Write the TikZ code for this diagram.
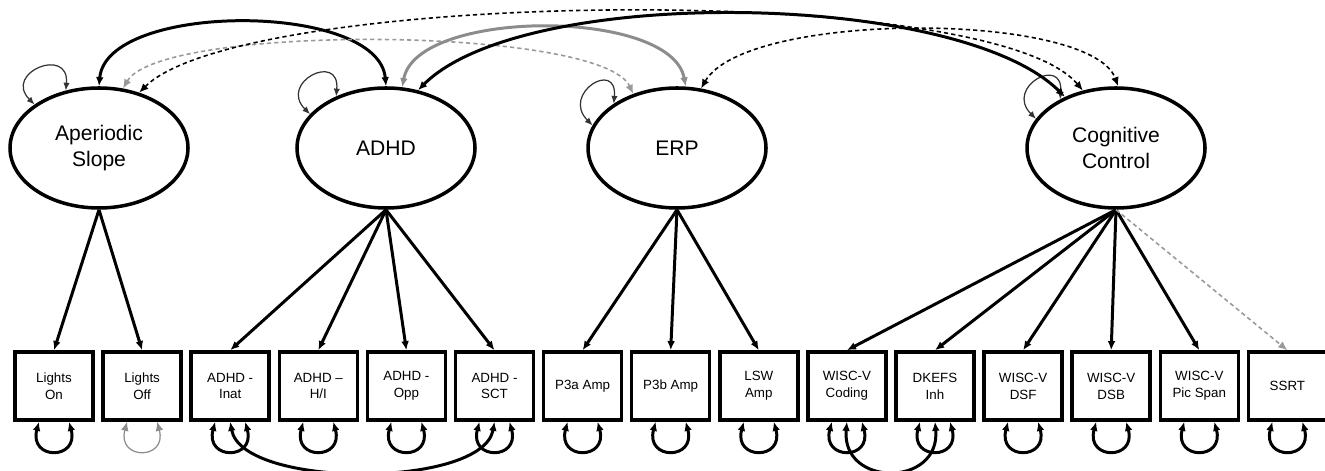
\documentclass[tikz,border=0pt]{standalone}
\usepackage{fontspec}
\setmainfont{Liberation Sans}
\usetikzlibrary{arrows.meta, shapes.geometric}

\begin{document}
\begin{tikzpicture}[
    >={Latex[length=2.6pt,width=2.2pt]},
    latent/.style={ellipse, draw, line width=1pt, inner sep=0pt,
        minimum width=1.78cm, minimum height=1.2cm, align=center,
        font=\fontsize{6}{7.4}\selectfont},
    indic/.style={rectangle, draw, line width=1pt, inner sep=0pt,
        minimum width=0.78cm, minimum height=0.68cm, align=center,
        font=\fontsize{3.8}{4.8}\selectfont},
    load/.style={->, line width=0.85pt},
    cov/.style={<->, line width=0.85pt},
    covgray/.style={<->, line width=0.85pt, black!45},
    covdash/.style={<->, line width=0.45pt, dash pattern=on 1.2pt off 0.9pt},
    covlight/.style={<->, line width=0.45pt, black!40, dash pattern=on 1.2pt off 0.9pt},
    varloop/.style={<->, line width=0.35pt, black!80,
        >={Latex[length=2.2pt,width=1.8pt]}},
    resid/.style={<->, line width=0.85pt},
]
\useasboundingbox (0,0) rectangle (13.25,4.71);

% === Latent factors ===
\node[latent] (aper) at (0.99,3.23) {Aperiodic\\Slope};
\node[latent] (adhd) at (3.86,3.23) {ADHD};
\node[latent] (erp)  at (6.77,3.23) {ERP};
\node[latent] (cog)  at (11.16,3.23) {Cognitive\\Control};

% === Indicators ===
\foreach \nm/\txt [count=\i from 0] in {lon/{Lights\\On}, loff/{Lights\\Off},
    inat/{ADHD -\\Inat}, hi/{ADHD --\\H/I}, opp/{ADHD -\\Opp}, sct/{ADHD -\\SCT},
    pa/{P3a Amp}, pb/{P3b Amp}, lsw/{LSW\\Amp}, cod/{WISC-V\\Coding},
    dkefs/{DKEFS\\Inh}, dsf/{WISC-V\\DSF}, dsb/{WISC-V\\DSB},
    pic/{WISC-V\\Pic Span}, ssrt/{SSRT}}
    \node[indic] (\nm) at ({0.54+0.881*\i},0.85) {\txt};

% === Loadings ===
\foreach \t in {lon,loff} \draw[load] (aper.south) -- (\t.north);
\foreach \t in {inat,hi,opp,sct} \draw[load] (adhd.south) -- (\t.north);
\foreach \t in {pa,pb,lsw} \draw[load] (erp.south) -- (\t.north);
\foreach \t in {cod,dkefs,dsf,dsb,pic} \draw[load] (cog.south) -- (\t.north);
\draw[->, line width=0.45pt, black!40, dash pattern=on 1.2pt off 0.9pt] (cog.south) -- (ssrt.north);

% === Factor variances ===
\draw[varloop] (aper.146) .. controls +(135:0.45) and +(85:0.45) .. (aper.120);
\draw[varloop] (adhd.156) .. controls +(135:0.45) and +(85:0.45) .. (adhd.134);
\draw[varloop] (erp.165) .. controls +(135:0.45) and +(85:0.45) .. (erp.145);
\draw[varloop] (cog.160) .. controls +(135:0.45) and +(85:0.45) .. (cog.139);

% === Factor covariances ===
\draw[cov] (aper.90) .. controls +(85:0.85) and +(95:0.85) .. (adhd.90);
\draw[covlight] (aper.68) .. controls +(60:0.75) and +(115:0.75) .. (erp.129);
\draw[covdash] (aper.54) .. controls +(45:1.45) and +(130:1.45) .. (cog.120);
\draw[covgray] (adhd.75) .. controls +(80:0.8) and +(100:0.8) .. (erp.82);
\draw[cov] (adhd.61) .. controls +(45:1.5) and +(135:1.5) .. (cog.135);
\draw[covdash] (erp.68) .. controls +(60:0.9) and +(110:0.8) .. (cog.88);

% === Residual variances ===
\foreach \nm in {lon,inat,hi,opp,sct,pa,pb,lsw,cod,dkefs,dsf,dsb,pic,ssrt}
    \draw[resid] ([xshift=-0.15cm]\nm.south) .. controls +(-105:0.4) and +(-75:0.4) .. ([xshift=0.15cm]\nm.south);
\draw[resid, line width=0.35pt, black!45] ([xshift=-0.15cm]loff.south) .. controls +(-105:0.4) and +(-75:0.4) .. ([xshift=0.15cm]loff.south);

% === Residual covariances ===
\draw[resid] (inat.south) .. controls +(-80:0.68) and +(-100:0.68) .. (sct.south);
\draw[resid] (cod.south) .. controls +(-95:0.66) and +(-85:0.66) .. (dkefs.south);

\end{tikzpicture}
\end{document}
